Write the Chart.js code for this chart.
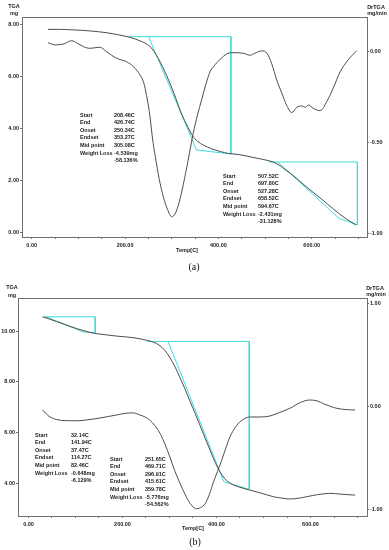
<!DOCTYPE html>
<html>
<head>
<meta charset="utf-8">
<script src="https://cdn.jsdelivr.net/npm/chart.js@4.4.0/dist/chart.umd.min.js"></script>
<style>
  body { margin: 0; background: #fff; }
  canvas { position: absolute; left: 0; }
  #chartA { top: 0; }
  #chartB { top: 275px; }
</style>
</head>
<body>
<canvas id="chartA" width="389" height="275"></canvas>
<canvas id="chartB" width="389" height="275"></canvas>
<script>
// ---- values ----

// panel (a): TGA curve (temperature C, mass mg)
const tgaTempA = [35, 60, 89, 125, 161, 189, 211, 232, 254, 271, 289, 305, 320, 335, 345, 355, 368, 385, 405, 421,
  446, 470, 495, 517, 530, 545, 554, 570, 590, 610, 624, 645, 667, 682, 695];
const tgaMassA = [7.82, 7.82, 7.80, 7.76, 7.69, 7.60, 7.51, 7.38, 7.15, 6.71, 6.05, 5.35, 4.62, 4.05, 3.72, 3.52, 3.37, 3.23, 3.12, 3.05,
  3.00, 2.91, 2.82, 2.72, 2.60, 2.40, 2.29, 2.05, 1.74, 1.45, 1.25, 0.93, 0.62, 0.44, 0.30];

// panel (a): DrTGA curve (temperature C, mg/min)
const dtgTempA = [35, 50, 68, 86, 96, 111, 125, 146, 160, 182, 203, 218, 232, 240, 246, 252, 260, 265, 273, 282, 291, 300,
  308, 316, 325, 335, 346, 355, 364, 373, 382, 393, 404, 418, 428, 453, 468, 478, 493, 504, 514, 525, 536, 546, 557,
  568, 579, 586, 593, 603, 618, 632, 646, 661, 678, 696];
const dtgRateA = [0.051, 0.039, 0.044, 0.062, 0.051, 0.029, 0.020, 0.026, 0.002, -0.035, -0.054, -0.081, -0.127, -0.17,
  -0.24, -0.33, -0.50, -0.58, -0.70, -0.80, -0.87, -0.91, -0.89, -0.83, -0.73, -0.60, -0.45, -0.35, -0.265, -0.18,
  -0.11, -0.07, -0.04, -0.011, -0.004, -0.007, -0.018, -0.007, 0.006, -0.007, -0.063, -0.155, -0.228, -0.293, -0.335,
  -0.306, -0.298, -0.306, -0.293, -0.311, -0.324, -0.275, -0.20, -0.109, -0.044, 0.007];

// panel (a): step analysis [start, end, onset, endset, mid point] in C
const stepTempsA = [[208.46, 426.74, 250.34, 353.27, 305.08], [507.52, 697.80, 527.28, 658.52, 594.67]];
// panel (a): construction masses [baseline, at endset, at end] in mg
const stepMassA = [[7.54, 3.18, 3.03], [2.72, 0.55, 0.30]];
const lossMgA = [-4.539, -2.431];
const lossPctA = [-58.136, -31.128];

// panel (b): TGA curve
const tgaTempB = [30, 45, 60, 80, 102, 120, 141, 165, 188, 222, 251, 266, 280, 290, 300, 311, 322, 333, 344, 355, 365,
  376, 387, 398, 408, 418, 430, 450, 471, 493, 521, 540, 556, 575, 592, 615, 641, 665, 695];
const tgaMassB = [10.56, 10.47, 10.37, 10.24, 10.10, 10.00, 9.91, 9.85, 9.80, 9.74, 9.64, 9.56, 9.42, 9.24, 8.98, 8.62,
  8.18, 7.72, 7.22, 6.74, 6.28, 5.78, 5.28, 4.80, 4.44, 4.18, 4.00, 3.85, 3.74, 3.63, 3.48, 3.42, 3.39, 3.42, 3.48,
  3.56, 3.61, 3.58, 3.54];

// panel (b): DrTGA curve
const dtgTempB = [30, 38, 46, 60, 81, 100, 116, 135, 152, 170, 188, 205, 222, 237, 248, 258, 270, 280, 290, 301, 311,
  322, 333, 344, 352, 358, 366, 376, 385, 393, 402, 411, 420, 429, 440, 450, 460, 471, 493, 514, 535, 556, 578, 599,
  615, 627, 641, 656, 675, 695];
const dtgRateB = [-0.03, -0.07, -0.10, -0.125, -0.136, -0.137, -0.133, -0.122, -0.11, -0.095, -0.08, -0.065, -0.06,
  -0.08, -0.10, -0.13, -0.19, -0.26, -0.36, -0.49, -0.62, -0.74, -0.85, -0.94, -0.98, -0.99, -0.98, -0.94, -0.85,
  -0.74, -0.63, -0.52, -0.40, -0.29, -0.20, -0.146, -0.115, -0.10, -0.10, -0.09, -0.055, -0.016, 0.04, 0.065, 0.055,
  0.03, 0.005, -0.016, -0.028, -0.032];

const stepTempsB = [[32.14, 141.94, 37.47, 114.27, 82.46], [251.65, 469.71, 296.91, 415.61, 359.78]];
const stepMassB = [[10.56, 9.98, 9.91], [9.59, 4.07, 3.77]];
const lossMgB = [-0.648, -5.776];
const lossPctB = [-6.129, -54.562];

// axis ticks
const tempTicks = [0, 50, 100, 150, 200, 250, 300, 350, 400, 450, 500, 550, 600, 650, 700];
const tempLabels = [0, 200, 400, 600];
const massTicksA = [0, 2, 4, 6, 8];
const rateTicksA = [0, -0.5, -1];
const massTicksB = [4, 6, 8, 10];
const rateTicksB = [1, 0, -1];

const rowNames = ['Start', 'End', 'Onset', 'Endset', 'Mid point', 'Weight Loss'];

// ---- styles ----
const GRAY = '#4d4d4d';
const CYAN = '#3ddcdc';
const AXIS = '#707070';
const TXT = '#222';
const SMALL = 'bold 5.5px "Liberation Sans", Arial, sans-serif';
const tickFont = { family: '"Liberation Sans", Arial, sans-serif', size: 5.5, weight: 'bold' };

function pairs(xs, ys) {
  return xs.map((x, i) => ({ x: x, y: ys[i] }));
}

// baseline start -> end, drop to end mass, back along the tangent through endset to onset
function stepPath(t, m) {
  return [
    { x: t[0], y: m[0] }, { x: t[1], y: m[0] }, { x: t[1], y: m[2] },
    { x: t[3], y: m[1] }, { x: t[2], y: m[0] }
  ];
}

function stepRows(t, mg, pct) {
  const vals = [t[0], t[1], t[2], t[3], t[4]].map(v => v.toFixed(2) + 'C');
  vals.push(mg.toFixed(3) + 'mg');
  vals.push(pct.toFixed(3) + '%');
  return vals;
}

const textPlugin = {
  id: 'texts',
  afterDraw(chart, args, opts) {
    const ctx = chart.ctx;
    const a = chart.chartArea;
    ctx.save();
    // top frame line
    ctx.strokeStyle = AXIS;
    ctx.lineWidth = 1;
    ctx.beginPath();
    ctx.moveTo(a.left, a.top + 0.5);
    ctx.lineTo(a.right, a.top + 0.5);
    ctx.stroke();

    ctx.fillStyle = TXT;
    ctx.textBaseline = 'middle';
    ctx.font = SMALL;
    ctx.textAlign = 'center';
    opts.titles.forEach(t => ctx.fillText(t[0], t[1], t[2]));

    ctx.textAlign = 'left';
    opts.blocks.forEach(b => {
      b.rows.forEach((v, i) => {
        const y = b.y + i * b.dy;
        if (i < rowNames.length) ctx.fillText(rowNames[i], b.lx, y);
        ctx.fillText(v, b.vx, y);
      });
    });

    ctx.font = '10px "Liberation Serif", "Times New Roman", serif';
    ctx.fillStyle = '#111';
    ctx.textAlign = 'center';
    ctx.fillText(opts.caption[0], opts.caption[1], opts.caption[2]);
    ctx.restore();
  }
};

function axis(pos, min, max, ticks, width, fmt) {
  return {
    type: 'linear', position: pos, min: min, max: max,
    afterBuildTicks: s => { s.ticks = ticks.map(v => ({ value: v })); },
    afterFit: s => { s.width = width; },
    ticks: { font: tickFont, color: TXT, padding: 1, callback: fmt },
    grid: { drawOnChartArea: false, tickLength: 2, color: AXIS },
    border: { color: AXIS, width: 1 }
  };
}

function makeChart(id, p) {
  const datasets = [
    { data: pairs(p.tgaT, p.tgaM), yAxisID: 'y', borderColor: GRAY, borderWidth: 1, pointRadius: 0, cubicInterpolationMode: 'monotone' },
    { data: pairs(p.dtgT, p.dtgR), yAxisID: 'y2', borderColor: GRAY, borderWidth: 1, pointRadius: 0, cubicInterpolationMode: 'monotone' }
  ];
  p.stepT.forEach((t, i) => {
    datasets.push({ data: stepPath(t, p.stepM[i]), yAxisID: 'y', borderColor: CYAN, borderWidth: 1, pointRadius: 0, tension: 0 });
  });

  return new Chart(document.getElementById(id), {
    type: 'line',
    data: { datasets: datasets },
    options: {
      responsive: false,
      animation: false,
      devicePixelRatio: 1,
      layout: { padding: { top: p.top, left: 0, right: 0, bottom: 0 } },
      plugins: {
        legend: { display: false },
        tooltip: { enabled: false },
        texts: { titles: p.titles, blocks: p.blocks, caption: p.caption }
      },
      scales: {
        x: {
          type: 'linear', min: p.xMin, max: p.xMax,
          afterBuildTicks: s => { s.ticks = tempTicks.map(v => ({ value: v })); },
          afterFit: s => { s.height = p.xHeight; },
          ticks: {
            font: tickFont, color: TXT, padding: 3, autoSkip: false, maxRotation: 0,
            callback: v => tempLabels.includes(v) ? v.toFixed(2) : ''
          },
          grid: { drawOnChartArea: false, tickLength: 2, color: AXIS },
          border: { color: AXIS, width: 1 }
        },
        y: axis('left', p.yMin, p.yMax, p.massTicks, p.leftW, v => v.toFixed(2)),
        y2: axis('right', p.rMin, p.rMax, p.rateTicks, 22, v => v.toFixed(2))
      }
    },
    plugins: [textPlugin]
  });
}

makeChart('chartA', {
  tgaT: tgaTempA, tgaM: tgaMassA, dtgT: dtgTempA, dtgR: dtgRateA,
  stepT: stepTempsA, stepM: stepMassA,
  massTicks: massTicksA, rateTicks: rateTicksA,
  xMin: -20.8, xMax: 718.4, yMin: -0.165, yMax: 8.296, rMin: -1.022, rMax: 0.193,
  top: 17, xHeight: 38, leftW: 22,
  titles: [['TGA', 14, 6], ['mg', 14, 13], ['DrTGA', 376, 7], ['mg/min', 377, 13], ['Temp[C]', 187, 250]],
  blocks: [
    { lx: 80, vx: 114, y: 115, dy: 7.6, rows: stepRows(stepTempsA[0], lossMgA[0], lossPctA[0]) },
    { lx: 223, vx: 258, y: 176, dy: 7.6, rows: stepRows(stepTempsA[1], lossMgA[1], lossPctA[1]) }
  ],
  caption: ['(a)', 194, 267]
});

makeChart('chartB', {
  tgaT: tgaTempB, tgaM: tgaMassB, dtgT: dtgTempB, dtgR: dtgRateB,
  stepT: stepTempsB, stepM: stepMassB,
  massTicks: massTicksB, rateTicks: rateTicksB,
  xMin: -22.3, xMax: 720.2, yMin: 2.72, yMax: 11.30, rMin: -1.061, rMax: 1.055,
  top: 23, xHeight: 34, leftW: 18,
  titles: [['TGA', 12, 12], ['mg', 12, 20], ['DrTGA', 375, 13], ['mg/min', 376, 19], ['Temp[C]', 193, 253]],
  blocks: [
    { lx: 35, vx: 71, y: 160, dy: 7.6, rows: stepRows(stepTempsB[0], lossMgB[0], lossPctB[0]) },
    { lx: 110, vx: 145, y: 184, dy: 7.6, rows: stepRows(stepTempsB[1], lossMgB[1], lossPctB[1]) }
  ],
  caption: ['(b)', 195, 267]
});
</script>
</body>
</html>
